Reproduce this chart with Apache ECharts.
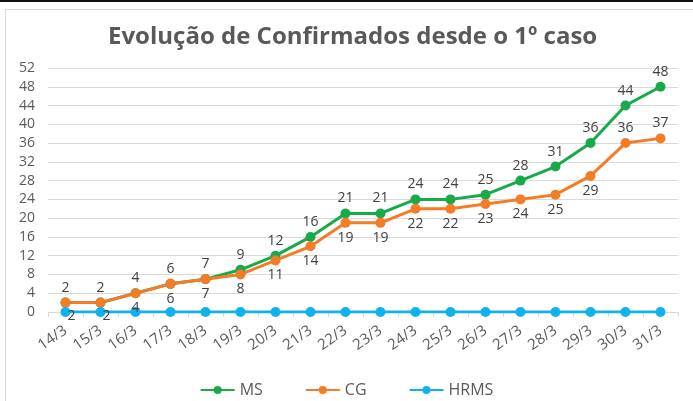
<!DOCTYPE html>
<html>
<head>
<meta charset="utf-8">
<script src="https://cdn.jsdelivr.net/npm/echarts@6/dist/echarts.min.js"></script>
<style>
  html, body { margin: 0; padding: 0; background: #fff; }
  #topline { position: absolute; left: 0; top: 0; width: 693px; height: 2px; background: #111; }
  #frame { position: absolute; left: 5px; top: 9px; width: 700px; height: 400px; border: 1px solid #d9d9d9; }
  #main { position: absolute; left: 0; top: 0; width: 693px; height: 401px; }
</style>
</head>
<body>
<div id="topline"></div>
<div id="frame"></div>
<div id="main"></div>
<script>
const days = ['14/3', '15/3', '16/3', '17/3', '18/3', '19/3', '20/3', '21/3', '22/3',
  '23/3', '24/3', '25/3', '26/3', '27/3', '28/3', '29/3', '30/3', '31/3']
const ms = [2, 2, 4, 6, 7, 9, 12, 16, 21, 21, 24, 24, 25, 28, 31, 36, 44, 48]
const cg = [2, 2, 4, 6, 7, 8, 11, 14, 19, 19, 22, 22, 23, 24, 25, 29, 36, 37]
const hrms = [0, 0, 0, 0, 0, 0, 0, 0, 0, 0, 0, 0, 0, 0, 0, 0, 0, 0]

const font = '"Open Sans", "DejaVu Sans", sans-serif'

// rotulos do CG: abaixo, menos os dois ultimos
const cgData = cg.map((v, i) => ({
  value: v,
  label: i < 2
    ? { position: 'bottom', offset: [6, -2] }
    : { position: i >= 16 ? 'top' : 'bottom' }
}))

const lineSerie = (name, data, color, showLabel) => ({
  name: name,
  type: 'line',
  data: data,
  symbol: 'circle',
  symbolSize: 10,
  lineStyle: { width: 3, color: color },
  itemStyle: { color: color },
  label: {
    show: showLabel,
    position: 'top',
    color: '#404040',
    fontSize: 14,
    fontFamily: font,
    distance: 3
  },
  emphasis: { disabled: true }
})

var myChart = echarts.init(document.getElementById('main'))

var option = {
  animation: false,
  title: {
    text: 'Evolução de Confirmados desde o 1º caso',
    left: 103,
    top: 20,
    textStyle: { color: '#595959', fontSize: 24, fontWeight: 'bold', fontFamily: font }
  },
  legend: {
    top: 377,
    left: 'center',
    itemGap: 42,
    itemWidth: 34,
    itemHeight: 10,
    textStyle: { color: '#595959', fontSize: 16, fontFamily: font },
    data: ['MS', 'CG', 'HRMS']
  },
  grid: { left: 48, right: 15, top: 68, bottom: 89, containLabel: false },
  xAxis: {
    type: 'category',
    data: days,
    boundaryGap: true,
    axisLine: { lineStyle: { color: '#d9d9d9' } },
    axisTick: { show: true, length: 5, lineStyle: { color: '#d9d9d9' } },
    axisLabel: { rotate: 35, color: '#595959', fontSize: 15, fontFamily: font, margin: 17 }
  },
  yAxis: {
    type: 'value',
    min: 0,
    max: 52,
    interval: 4,
    axisLine: { show: false },
    axisTick: { show: false },
    axisLabel: { color: '#595959', fontSize: 14, fontFamily: font, margin: 13 },
    splitLine: { lineStyle: { color: '#d9d9d9' } }
  },
  series: [
    lineSerie('MS', ms, '#18a94b', true),
    lineSerie('CG', cgData, '#f47c26', true),
    lineSerie('HRMS', hrms, '#10b2ee', false)
  ]
}

myChart.setOption(option)
window.addEventListener('resize', () => {
  myChart.resize()
})
</script>
</body>
</html>
